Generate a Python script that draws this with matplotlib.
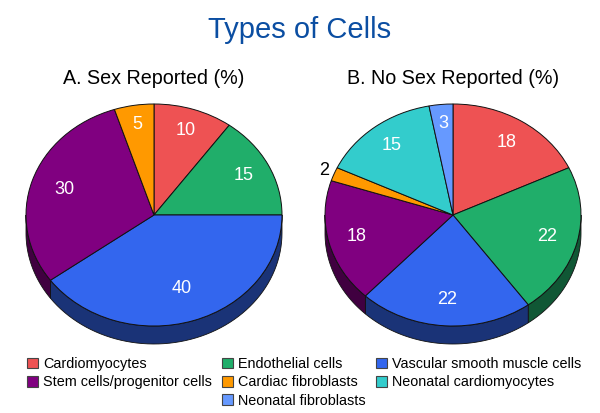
import matplotlib.pyplot as plt
from matplotlib.patches import Patch
import numpy as np

plt.rcParams["font.family"] = ["Liberation Sans", "DejaVu Sans"]

cell_types = [
    "Cardiomyocytes",
    "Endothelial cells",
    "Vascular smooth muscle cells",
    "Stem cells/progenitor cells",
    "Cardiac fibroblasts",
    "Neonatal cardiomyocytes",
    "Neonatal fibroblasts",
]
sex_reported = [10, 15, 40, 30, 5, 0, 0]
no_sex_reported = [18, 22, 22, 18, 2, 15, 3]

colors = ["#ee5253", "#20ae6a", "#3366ee", "#800080", "#ff9900", "#33cccc", "#6699ff"]
wall_colors = ["#772929", "#105735", "#1a3377", "#400040", "#804d00", "#1a6666", "#334d80"]

W, H = 600, 413
RX, RY, DEPTH = 128, 111, 18


def draw_pie(center_x, center_y, values, title):
    pad = 3
    left = center_x - RX - pad
    bottom = H - (center_y + RY + DEPTH + pad)
    width = 2 * (RX + pad)
    height = 2 * RY + DEPTH + 2 * pad
    ax = fig.add_axes([left / W, bottom / H, width / W, height / H])

    keep = [i for i, v in enumerate(values) if v > 0]
    vals = [values[i] for i in keep]
    wedges, _ = ax.pie(
        vals,
        colors=[colors[i] for i in keep],
        startangle=90,
        counterclock=False,
        wedgeprops={"edgecolor": "#111111", "linewidth": 0.7, "zorder": 3},
    )
    ax.set_aspect("auto")
    ax.set_xlim(-(RX + pad) / RX, (RX + pad) / RX)
    ax.set_ylim(-(RY + DEPTH + pad) / RY, (RY + pad) / RY)

    # side wall of the fake 3D pie, only the front half shows
    drop = DEPTH / RY
    for w, i in zip(wedges, keep):
        a = max(w.theta1, -180)
        b = min(w.theta2, 0)
        if a >= b:
            continue
        t = np.radians(np.linspace(a, b, 60))
        xs = np.r_[np.cos(t), np.cos(t[::-1])]
        ys = np.r_[np.sin(t), np.sin(t[::-1]) - drop]
        ax.fill(xs, ys, facecolor=wall_colors[i], edgecolor="#111111", linewidth=0.6, zorder=2)

    for w, v in zip(wedges, vals):
        mid = np.radians((w.theta1 + w.theta2) / 2)
        # small slices have their number pushed towards the rim
        r = 1.08 if v <= 2 else 0.84 - 0.0035 * v
        ax.text(
            r * np.cos(mid),
            r * np.sin(mid),
            str(v),
            color="black" if v <= 2 else "white",
            fontsize=13,
            ha="center",
            va="center",
            zorder=4,
        )
    ax.set_title(title, fontsize=14.2, pad=12)
    return ax


fig = plt.figure(figsize=(W / 100, H / 100), dpi=100)
fig.suptitle("Types of Cells", fontsize=21, color="#0b4ea2", x=0.5, y=0.962, va="top")

draw_pie(154, 215, sex_reported, "A. Sex Reported (%)")
draw_pie(453, 215, no_sex_reported, "B. No Sex Reported (%)")

# three legends because matplotlib would balance the columns the other way
columns = [([0, 3], 27), ([1, 4, 6], 222), ([2, 5], 376)]
for idx, x in columns:
    handles = [Patch(facecolor=colors[i], edgecolor="#444444", linewidth=0.8, label=cell_types[i]) for i in idx]
    fig.legend(
        handles=handles,
        loc="upper left",
        bbox_to_anchor=(x / W, 1 - 357 / H),
        frameon=False,
        fontsize=10.4,
        borderpad=0,
        borderaxespad=0,
        handlelength=0.76,
        handleheight=0.76,
        handletextpad=0.35,
        labelspacing=0.3,
    )

fig.savefig("out.png", dpi=100)
